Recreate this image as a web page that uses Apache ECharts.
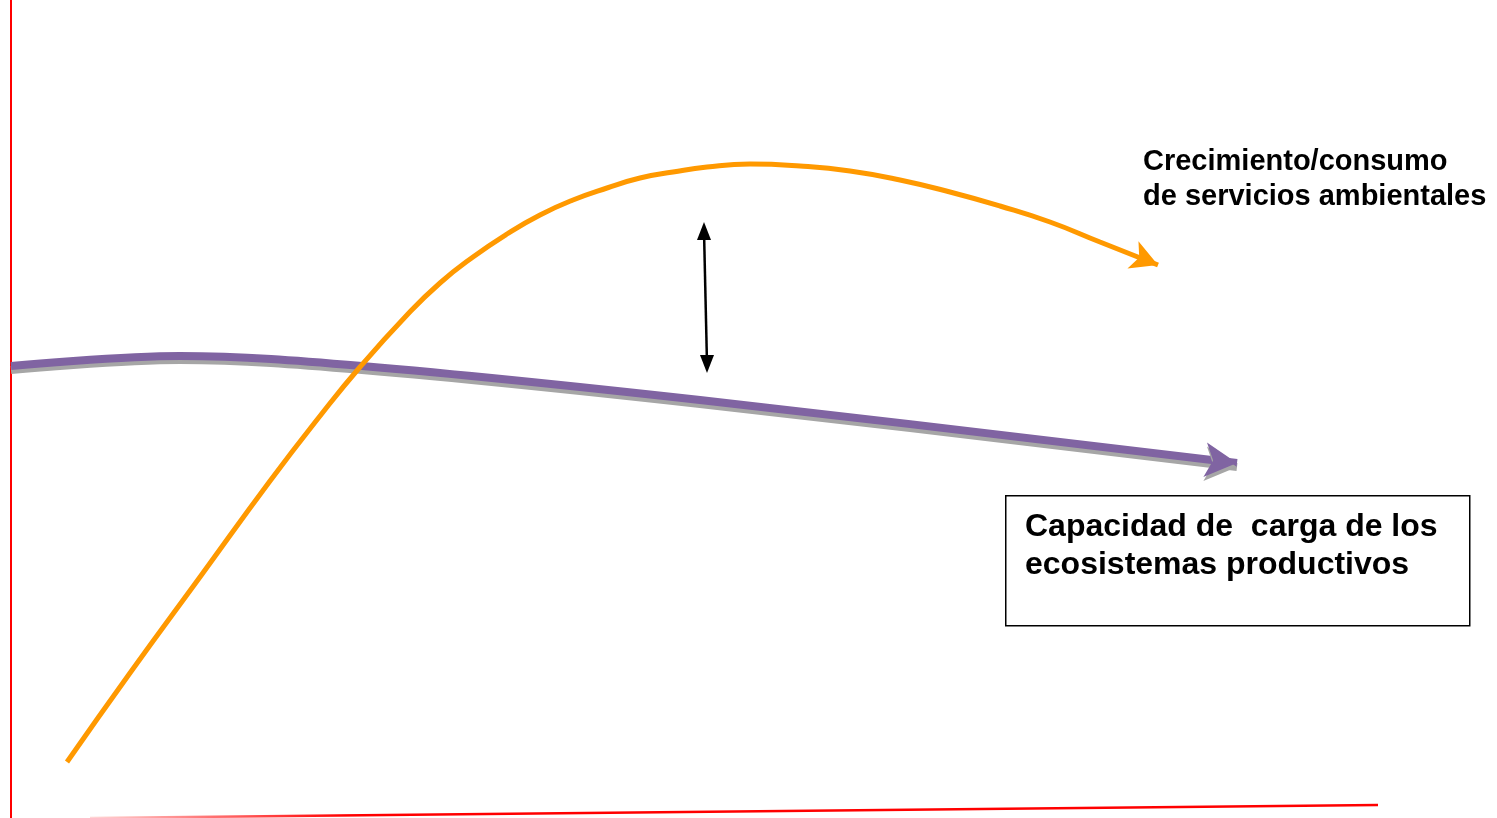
<!DOCTYPE html>
<html>
<head>
<meta charset="utf-8">
<script src="https://cdn.jsdelivr.net/npm/echarts@6/dist/echarts.min.js"></script>
<style>
  html, body { margin: 0; padding: 0; background: #fff; }
  #chart { width: 1497px; height: 818px; }
</style>
</head>
<body>
<div id="chart"></div>
<script>
(function (window, echarts) {
    'use strict';

    // consumption curve (x, height above bottom)
    const growthX = [67, 130, 200, 270, 320, 360, 407, 440, 473, 507, 540, 573, 607, 640, 673, 707, 750, 800, 850, 900, 950, 1000, 1050, 1100, 1158];
    const growthY = [56, 145, 241, 337, 402, 451, 503, 535, 561, 584, 603, 618, 630, 640, 646, 651, 654, 652, 647, 638, 626, 612, 596, 576, 553];

    // carrying capacity curve
    const capacityX = [11, 180, 362, 700, 1237];
    const capacityY = [452, 462, 452, 418, 355];

    // gap arrow and baseline
    const gapX = [704, 707];
    const gapY = [587, 454];
    const baseX = [90, 1378];
    const baseY = [0, 13];

    const growthLabel = 'Crecimiento/consumo\nde servicios ambientales';
    const capacityLabel = 'Capacidad de  carga de los\necosistemas productivos';

    const zip = (xs, ys) => xs.map((x, i) => [x, ys[i]]);

    const growthData = zip(growthX, growthY);
    growthData[growthData.length - 1] = {
        value: growthData[growthData.length - 1],
        symbol: 'arrow', symbolSize: [22, 27], symbolRotate: -112
    };

    const capacityData = zip(capacityX, capacityY);
    capacityData[capacityData.length - 1] = {
        value: capacityData[capacityData.length - 1],
        symbol: 'arrow', symbolSize: [26, 32], symbolRotate: -96
    };

    const gapData = zip(gapX, gapY).map((p, i) => ({
        value: p, symbol: 'triangle', symbolSize: [14, 18], symbolRotate: i === 0 ? 0 : 180
    }));

    const labelFont = {
        fontFamily: 'Liberation Sans',
        fontWeight: 'bold',
        fill: '#000'
    };

    const options = {
        animation: false,
        grid: { left: 11, right: 0, top: 0, bottom: 0 },
        xAxis: {
            type: 'value', min: 11, max: 1497,
            show: false
        },
        yAxis: {
            type: 'value', min: 0, max: 818,
            axisLine: { show: true, lineStyle: { color: '#ff0000', width: 2 } },
            axisTick: { show: false },
            axisLabel: { show: false },
            splitLine: { show: false }
        },
        series: [
            {
                type: 'line',
                data: zip(baseX, baseY),
                symbol: 'none',
                lineStyle: {
                    width: 2.5,
                    color: new echarts.graphic.LinearGradient(0, 0, 1, 0, [
                        { offset: 0, color: 'rgba(255,0,0,0.15)' },
                        { offset: 0.2, color: '#ff0000' },
                        { offset: 1, color: '#ff0000' }
                    ])
                }
            },
            {
                type: 'line',
                data: capacityData,
                smooth: 0.35,
                symbol: 'none',
                showSymbol: true,
                lineStyle: { width: 8, color: '#8064a2', shadowColor: '#a6a6a6', shadowOffsetY: 4, shadowBlur: 0 },
                itemStyle: { color: '#8064a2', shadowColor: '#a6a6a6', shadowOffsetY: 4, shadowBlur: 0 },
                z: 2
            },
            {
                type: 'line',
                data: growthData,
                smooth: 0.5,
                symbol: 'none',
                showSymbol: true,
                lineStyle: { width: 5, color: '#ff9900' },
                itemStyle: { color: '#ff9900' },
                z: 3
            },
            {
                type: 'line',
                data: gapData,
                showSymbol: true,
                lineStyle: { width: 2.5, color: '#000' },
                itemStyle: { color: '#000' },
                z: 4
            }
        ],
        graphic: [
            {
                type: 'text', left: 1143, top: 144,
                style: Object.assign({ text: growthLabel, fontSize: 29, lineHeight: 35 }, labelFont)
            },
            {
                type: 'rect', left: 1005, top: 495,
                shape: { width: 464, height: 130 },
                style: { fill: '#fff', stroke: '#000', lineWidth: 1.5 }
            },
            {
                type: 'text', left: 1025, top: 508,
                style: Object.assign({ text: capacityLabel, fontSize: 32, lineHeight: 38 }, labelFont)
            }
        ]
    };

    const chart = echarts.init(document.getElementById('chart'));
    chart.setOption(options);

})(window, echarts);
</script>
</body>
</html>
